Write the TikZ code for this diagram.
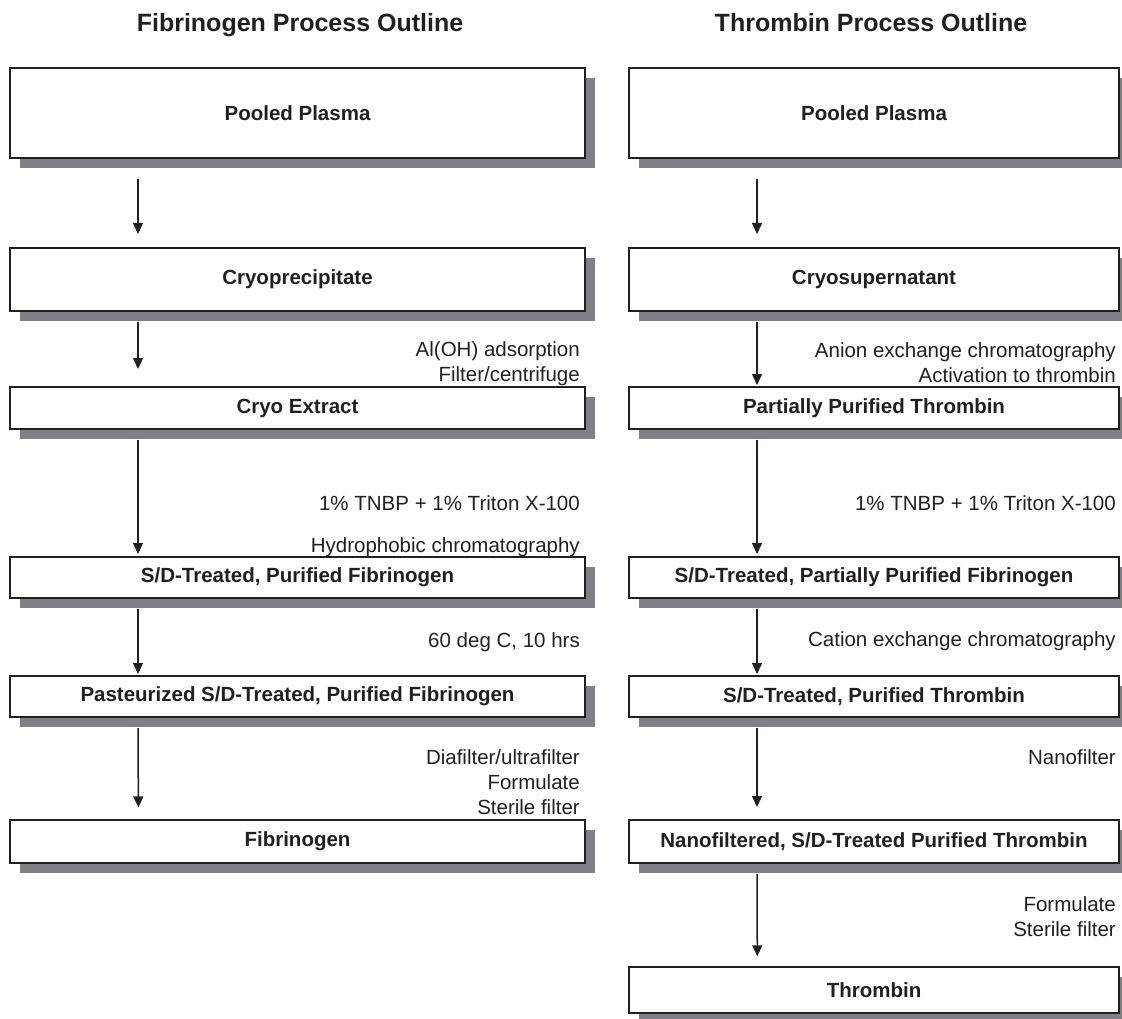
\documentclass[tikz,border=0pt]{standalone}
\usepackage{fontspec}
\setmainfont{Liberation Sans}
\usetikzlibrary{arrows.meta,shadows}
\definecolor{shadowgray}{RGB}{128,129,133}
\definecolor{inkblack}{RGB}{35,31,32}

\begin{document}
\begin{tikzpicture}[x=1pt,y=-1pt,
	box/.style={draw=inkblack,line width=2pt,fill=white,inner sep=0pt,text=inkblack,
		font=\fontsize{20.5}{24}\selectfont\bfseries,
		drop shadow={shadow xshift=10pt,shadow yshift=-10pt,fill=shadowgray,opacity=1}},
	fbox/.style={box,minimum width=575pt},
	tbox/.style={box,minimum width=490pt},
	lbl/.style={text=inkblack,inner sep=0pt,align=right,font=\fontsize{20.5}{25}\selectfont},
	ttl/.style={text=inkblack,inner sep=0pt,anchor=base,font=\fontsize{25}{30}\selectfont\bfseries},
	flow/.style={draw=inkblack,line width=1.5pt,-{Triangle[width=10pt,length=11pt]}}]
	\useasboundingbox (0,0) rectangle (1122,1019);
	% titles
	\node[ttl] (ftitle) at (300,32) {Fibrinogen Process Outline};
	\node[ttl] (ttitle) at (871,32) {Thrombin Process Outline};
	% fibrinogen column
	\node[fbox,minimum height=90pt] (f1) at (297.5,113) {Pooled Plasma};
	\node[fbox,minimum height=63pt] (f2) at (297.5,279.5) {Cryoprecipitate};
	\node[fbox,minimum height=42pt] (f3) at (297.5,408) {Cryo Extract};
	\node[fbox,minimum height=41pt] (f4) at (297.5,577.5) {S/D-Treated, Purified Fibrinogen};
	\node[fbox,minimum height=41pt] (f5) at (297.5,696.5) {Pasteurized S/D-Treated, Purified Fibrinogen};
	\node[fbox,minimum height=43pt,line width=1.2pt] (f6) at (297.5,841.5) {Fibrinogen};
	% thrombin column
	\node[tbox,minimum height=90pt] (t1) at (874,113) {Pooled Plasma};
	\node[tbox,minimum height=63pt] (t2) at (874,279.5) {Cryosupernatant};
	\node[tbox,minimum height=42pt] (t3) at (874,408) {Partially Purified Thrombin};
	\node[tbox,minimum height=41pt] (t4) at (874,577.5) {S/D-Treated, Partially Purified Fibrinogen};
	\node[tbox,minimum height=41pt] (t5) at (874,696.5) {S/D-Treated, Purified Thrombin};
	\node[tbox,minimum height=43pt] (t6) at (874,841.5) {Nanofiltered, S/D-Treated Purified Thrombin};
	\node[tbox,minimum height=46pt,line width=1.4pt] (t7) at (874,990) {Thrombin};
	% steps
	\node[lbl,anchor=east] (fa) at (580,363.5) {Al(OH) adsorption\\Filter/centrifuge};
	\node[lbl,anchor=base east] (fb) at (580,510) {1\% TNBP + 1\% Triton X-100};
	\node[lbl,anchor=base east] (fc) at (580,552) {Hydrophobic chromatography};
	\node[lbl,anchor=base east] (fd) at (580,647) {60 deg C, 10 hrs};
	\node[lbl,anchor=east] (fe) at (580,782.5) {Diafilter/ultrafilter\\Formulate\\Sterile filter};
	\node[lbl,anchor=east] (ta) at (1116,363) {Anion exchange chromatography\\Activation to thrombin};
	\node[lbl,anchor=base east] (tb) at (1116,510) {1\% TNBP + 1\% Triton X-100};
	\node[lbl,anchor=base east] (tc) at (1116,646) {Cation exchange chromatography};
	\node[lbl,anchor=base east] (td) at (1116,764) {Nanofilter};
	\node[lbl,anchor=east] (te) at (1116,916.5) {Formulate\\Sterile filter};
	% arrows
	\draw[flow] ([shift={(129pt,-20pt)}]f1.south west) -- ([shift={(129pt,13pt)}]f2.north west);
	\draw[flow] ([shift={(129pt,-10pt)}]f2.south west) -- ([shift={(129pt,17pt)}]f3.north west);
	\draw[flow] ([shift={(129pt,-10pt)}]f3.south west) -- ([shift={(129pt,2pt)}]f4.north west);
	\draw[flow] ([shift={(129pt,-10pt)}]f4.south west) -- ([shift={(129pt,1pt)}]f5.north west);
	\draw[flow] ([shift={(129pt,-10pt)}]f5.south west) -- ([shift={(129pt,12pt)}]f6.north west);
	\draw[flow] ([shift={(129pt,-20pt)}]t1.south west) -- ([shift={(129pt,13pt)}]t2.north west);
	\draw[flow] ([shift={(129pt,-10pt)}]t2.south west) -- ([shift={(129pt,1pt)}]t3.north west);
	\draw[flow] ([shift={(129pt,-10pt)}]t3.south west) -- ([shift={(129pt,2pt)}]t4.north west);
	\draw[flow] ([shift={(129pt,-10pt)}]t4.south west) -- ([shift={(129pt,1pt)}]t5.north west);
	\draw[flow] ([shift={(129pt,-10pt)}]t5.south west) -- ([shift={(129pt,12pt)}]t6.north west);
	\draw[flow] ([shift={(129pt,-10pt)}]t6.south west) -- ([shift={(129pt,10pt)}]t7.north west);
\end{tikzpicture}
\end{document}
